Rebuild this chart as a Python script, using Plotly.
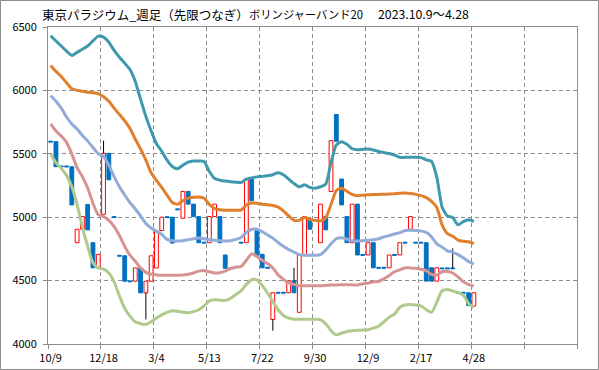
import plotly.graph_objects as go

# ---- data ----
x_labels = ["10/9", "12/18", "3/4", "5/13", "7/22", "9/30", "12/9", "2/17", "4/28"]
n_slots = 100

opens = [5600, 5596, 5404, 5404, 5398, 4799, 4905, 5100, 4799, 4601,
         5023, 5504, 5005, 4700, 4696, 4498, 4495, 4600, 4403, 4495,
         4600, 4895, 5004, 5000, 5066, 4992, 5203, 5103, 5005, 4803,
         4799, 5005, 5005, 4702, 4600, 4612, 4803, 4799, 5301, 4900,
         4707, 4605, 4193, 4408, 4408, 4404, 4499, 4250, 4702, 4984,
         4706, 4799, 5005, 5203, 5810, 5301, 5005, 4799, 5103, 4706,
         4702, 4799, 4605, 4605, 4601, 4706, 4702, 4803, 4905, 4803,
         4803, 4799, 4601, 4496, 4600, 4600, 4600, 4408, 4408, 4404,
         4300]
closes = [5592, 5398, 5396, 5396, 5097, 4905, 5005, 4900, 4601, 4707,
          5504, 5295, 4997, 4692, 4495, 4490, 4600, 4403, 4495, 4696,
          4887, 5000, 4996, 4796, 5058, 5203, 5103, 5005, 4799, 4795,
          5005, 5103, 4799, 4597, 4592, 4606, 4795, 5301, 5129, 4700,
          4601, 4597, 4404, 4400, 4400, 4499, 4404, 4702, 5005, 4905,
          4698, 5103, 4900, 5604, 5599, 5097, 4799, 5103, 4702, 4698,
          4799, 4601, 4597, 4597, 4702, 4698, 4799, 4795, 5005, 4795,
          4795, 4496, 4496, 4601, 4592, 4592, 4592, 4400, 4400, 4303,
          4404]
wick_high = {10: 5604, 46: 4601, 76: 4754}
wick_low = {18: 4194, 42: 4105}

band_up2 = [6431, 6390, 6350, 6310, 6275, 6300, 6325, 6350, 6390, 6428,
            6420, 6380, 6315, 6262, 6215, 6165, 6070, 5930, 5795, 5680,
            5580, 5520, 5450, 5400, 5382, 5410, 5435, 5443, 5443, 5440,
            5360, 5305, 5292, 5285, 5280, 5276, 5274, 5300, 5310, 5318,
            5322, 5327, 5335, 5350, 5335, 5300, 5266, 5240, 5255, 5235,
            5229, 5240, 5260, 5430, 5570, 5596, 5575, 5540, 5532, 5535,
            5538, 5530, 5519, 5510, 5502, 5490, 5472, 5472, 5472, 5472,
            5470, 5452, 5440, 5314, 5080, 5010, 4997, 4940, 4965, 4979,
            4966]
band_up1 = [6197, 6150, 6110, 6060, 6013, 6000, 5993, 5986, 5982, 5975,
            5950, 5915, 5860, 5810, 5760, 5700, 5615, 5538, 5450, 5350,
            5290, 5235, 5175, 5116, 5103, 5130, 5150, 5157, 5160, 5150,
            5100, 5068, 5058, 5055, 5055, 5055, 5056, 5095, 5112, 5110,
            5103, 5098, 5092, 5080, 5050, 5010, 4975, 4975, 4997, 4984,
            4975, 4971, 4995, 5100, 5210, 5229, 5205, 5180, 5170, 5173,
            5177, 5179, 5180, 5181, 5183, 5185, 5188, 5190, 5187, 5180,
            5170, 5155, 5125, 5076, 4940, 4870, 4850, 4820, 4810, 4806,
            4792]
band_mid = [5960, 5915, 5860, 5790, 5736, 5695, 5645, 5600, 5550, 5500,
            5480, 5410, 5320, 5240, 5175, 5115, 5065, 5010, 4950, 4915,
            4890, 4865, 4825, 4815, 4812, 4815, 4822, 4830, 4835, 4830,
            4822, 4818, 4815, 4812, 4815, 4825, 4840, 4880, 4905, 4905,
            4885, 4860, 4835, 4800, 4770, 4745, 4725, 4705, 4700, 4700,
            4700, 4705, 4740, 4790, 4830, 4838, 4826, 4815, 4812, 4815,
            4818, 4822, 4830, 4845, 4855, 4868, 4878, 4895, 4897, 4895,
            4892, 4880, 4845, 4790, 4765, 4735, 4725, 4705, 4680, 4650,
            4630]
band_dn1 = [5736, 5680, 5640, 5590, 5500, 5390, 5320, 5230, 5110, 5020,
            5005, 4975, 4925, 4855, 4770, 4700, 4652, 4600, 4565, 4550,
            4545, 4542, 4542, 4542, 4542, 4544, 4550, 4560, 4575, 4580,
            4570, 4560, 4562, 4575, 4595, 4605, 4612, 4660, 4711, 4690,
            4660, 4635, 4600, 4545, 4510, 4482, 4470, 4460, 4459, 4459,
            4459, 4459, 4462, 4465, 4466, 4467, 4467, 4467, 4465, 4475,
            4480, 4490, 4493, 4515, 4540, 4570, 4585, 4601, 4600, 4597,
            4590, 4578, 4549, 4543, 4570, 4572, 4560, 4530, 4490, 4470,
            4456]
band_dn2 = [5498, 5430, 5385, 5330, 5240, 5100, 4920, 4770, 4640, 4600,
            4590, 4560, 4490, 4380, 4280, 4220, 4175, 4160, 4155, 4175,
            4205, 4230, 4250, 4262, 4258, 4250, 4247, 4255, 4270, 4300,
            4340, 4349, 4346, 4344, 4360, 4390, 4420, 4470, 4507, 4505,
            4460, 4402, 4335, 4270, 4225, 4205, 4195, 4195, 4195, 4195,
            4195, 4193, 4160, 4105, 4072, 4085, 4098, 4104, 4108, 4110,
            4113, 4125, 4140, 4175, 4212, 4235, 4290, 4308, 4311, 4308,
            4300, 4270, 4250, 4330, 4420, 4430, 4418, 4405, 4385, 4320,
            4285]

y_ticks = [4000, 4500, 5000, 5500, 6000, 6500]
title_parts = ["東京パラジウム_週足（先限つなぎ）", "ボリンジャーバンド20", "2023.10.9～4.28"]

# ---- layout geometry ----
W, H = 599, 370
ML, MR, MT, MB = 48, 22, 27, 26
PW, PH = W - ML - MR, H - MT - MB


def px_x(px):
    return (px - ML) / PW


def px_y(py):
    return (H - MB - py) / PH


idx = list(range(len(opens)))
highs = [wick_high.get(i, max(o, c)) for i, (o, c) in enumerate(zip(opens, closes))]
lows = [wick_low.get(i, min(o, c)) for i, (o, c) in enumerate(zip(opens, closes))]

up_x = [i for i in idx if closes[i] >= opens[i]]
dn_x = [i for i in idx if closes[i] < opens[i]]

fig = go.Figure()

fig.add_trace(go.Bar(x=up_x, base=[opens[i] for i in up_x],
                     y=[closes[i] - opens[i] for i in up_x], width=0.72,
                     marker=dict(color="white", line=dict(color="#FF0000", width=1)),
                     showlegend=False))
fig.add_trace(go.Bar(x=dn_x, base=[closes[i] for i in dn_x],
                     y=[opens[i] - closes[i] for i in dn_x], width=0.72,
                     marker=dict(color="#0070C0", line=dict(color="#0070C0", width=1)),
                     showlegend=False))

# wicks: only the parts outside the body
wx, wy = [], []
for i in idx:
    top, bot = max(opens[i], closes[i]), min(opens[i], closes[i])
    if highs[i] > top:
        wx += [i, i, None]
        wy += [top, highs[i], None]
    if lows[i] < bot:
        wx += [i, i, None]
        wy += [lows[i], bot, None]
fig.add_trace(go.Scatter(x=wx, y=wy, mode="lines", line=dict(color="black", width=1),
                         hoverinfo="skip", showlegend=False))

line_specs = [(band_dn2, "#B0C98C"), (band_dn1, "#D69392"), (band_mid, "#93ABD8"),
              (band_up1, "#E07F2E"), (band_up2, "#3F99AE")]
for vals, col in line_specs:
    fig.add_trace(go.Scatter(x=idx, y=vals, mode="lines",
                             line=dict(color=col, width=3, shape="spline", smoothing=0.6),
                             showlegend=False, hoverinfo="skip"))

axis_col = "#8C8C8C"
grid_col = "#8C8C8C"
fig.update_layout(
    width=W, height=H, margin=dict(l=ML, r=MR, t=MT, b=MB, pad=0, autoexpand=False),
    paper_bgcolor="white", plot_bgcolor="white", barmode="overlay",
    showlegend=False, hovermode=False,
    font=dict(family="Noto Sans CJK JP, Noto Sans, sans-serif", size=11, color="#000"),
    xaxis=dict(range=[-0.5, n_slots - 0.5], tickmode="array", automargin=False,
               tickvals=list(range(0, 10 * len(x_labels), 10)), ticktext=x_labels,
               showgrid=False, ticks="", showline=True, linecolor=axis_col, linewidth=1,
               mirror=True, zeroline=False, tickfont=dict(size=11, family="Noto Sans CJK JP"),
               ticklabelstandoff=4, fixedrange=True,
               minor=dict(tickmode="array",
                          tickvals=[k - 0.5 for k in range(0, n_slots + 1, 10)],
                          showgrid=True, gridcolor=grid_col, griddash="4px,3px", gridwidth=1,
                          ticks="outside", ticklen=4, tickcolor=axis_col)),
    yaxis=dict(range=[4000, 6500], tickmode="array", tickvals=y_ticks, automargin=False,
               showgrid=True, gridcolor=grid_col, griddash="4px,3px", gridwidth=1,
               ticks="outside", ticklen=4, tickcolor=axis_col, fixedrange=True,
               showline=True, linecolor=axis_col, linewidth=1, mirror=True, zeroline=False,
               tickfont=dict(size=11, family="Noto Sans CJK JP"), ticklabelstandoff=4),
)

# outer frame of the chart
fig.add_shape(type="rect", xref="paper", yref="paper",
              x0=px_x(0.5), x1=px_x(598.5), y0=px_y(369.5), y1=px_y(0.5),
              line=dict(color="#8C8C8C", width=1), fillcolor="rgba(0,0,0,0)", layer="below")

title_x = [40, 247, 376]
title_size = [12.5, 11.3, 12.3]
for txt, tx, ts in zip(title_parts, title_x, title_size):
    fig.add_annotation(text=txt, xref="paper", yref="paper", x=px_x(tx), y=px_y(14),
                       xanchor="left", yanchor="middle", showarrow=False,
                       font=dict(size=ts, family="Noto Sans CJK JP", color="#000"))

fig.write_html("out.html", config={"displayModeBar": False, "staticPlot": True},
               post_script="document.body.style.margin='0px';"
                           "document.body.style.overflow='hidden';")
